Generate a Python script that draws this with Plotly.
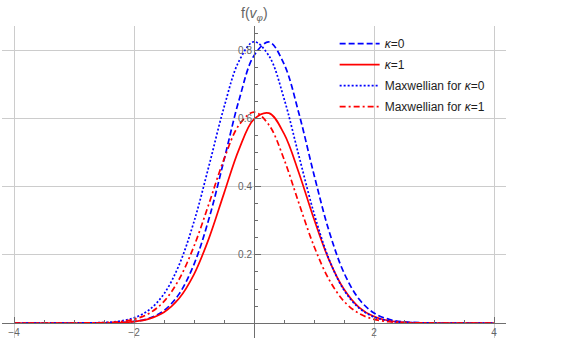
import plotly.graph_objects as go

# velocity grid v_phi/(d_i v_A)
v = [-4, -3.5, -3, -2.5, -2.25, -2, -1.75, -1.5, -1.25, -1, -0.75, -0.5, -0.25,
     0, 0.25, 0.5, 0.75, 1, 1.25, 1.5, 1.75, 2, 2.25, 2.5, 3, 3.5, 4]

# kappa=0 (blue dashed)
f_k0 = [0, 0, 0, 0.0003, 0.0013, 0.0046, 0.0139, 0.0367, 0.085, 0.1726, 0.307, 0.479, 0.655,
        0.786, 0.826, 0.7615, 0.615, 0.436, 0.2707, 0.1474, 0.0704, 0.0294, 0.0108, 0.0035, 0.0002, 0, 0]
# kappa=1 (red solid)
f_k1 = [0, 0, 0, 0.0003, 0.0012, 0.0042, 0.0123, 0.0318, 0.0721, 0.1431, 0.2495, 0.3811, 0.5104,
        0.5992, 0.6168, 0.5566, 0.4404, 0.3055, 0.1858, 0.0991, 0.0463, 0.019, 0.0068, 0.0021, 0.0001, 0, 0]
# Maxwellian for kappa=0 (blue dotted)
f_m0 = [0, 0, 0.0001, 0.0016, 0.0053, 0.0151, 0.0384, 0.0858, 0.170, 0.298, 0.4625, 0.634, 0.770,
        0.8267, 0.785, 0.660, 0.490, 0.3226, 0.1877, 0.0966, 0.044, 0.0177, 0.0063, 0.002, 0.0001, 0, 0]
# Maxwellian for kappa=1 (red dash-dot)
f_m1 = [0, 0, 0.0001, 0.0011, 0.0037, 0.0109, 0.0281, 0.0638, 0.128, 0.2258, 0.3512, 0.4816, 0.582,
        0.62, 0.582, 0.4816, 0.3512, 0.2258, 0.128, 0.0638, 0.0281, 0.0109, 0.0037, 0.0011, 0.0001, 0, 0]

x_ticks = [-4, -2, 2, 4]
y_ticks = [0.2, 0.4, 0.6, 0.8]

BLUE = "rgb(0,0,255)"
RED = "rgb(255,0,0)"
GRID = "rgb(204,204,204)"
AXIS = "rgb(110,110,110)"
TXT = "rgb(100,100,100)"
FONT = "Liberation Sans, Arial, sans-serif"

fig = go.Figure()
series = [
    ("<i>κ</i>=0", f_k0, BLUE, "6px,3px"),
    ("<i>κ</i>=1", f_k1, RED, "solid"),
    ("Maxwellian for <i>κ</i>=0", f_m0, BLUE, "2px,2px"),
    ("Maxwellian for <i>κ</i>=1", f_m1, RED, "6px,3px,2px,3px"),
]
for i, (name, ys, col, dash) in enumerate(series):
    fig.add_trace(go.Scatter(x=v, y=ys, name=name, mode="lines", legendgroup=str(i),
                             line=dict(color=col, dash=dash, width=1.7, shape="spline", smoothing=1.0)))

fig.update_layout(
    width=576, height=342,
    margin=dict(l=2, r=70, t=26, b=4),
    plot_bgcolor="white", paper_bgcolor="white",
    font=dict(family=FONT, size=12, color="rgb(40,40,40)"),
    legend=dict(x=0.66, y=0.99, xanchor="left", yanchor="top", bgcolor="rgba(0,0,0,0)",
                itemwidth=40, tracegroupgap=2, traceorder="grouped",
                font=dict(size=12, color="rgb(30,30,30)")),
    showlegend=True,
)

fig.update_xaxes(
    range=[-4.2, 4.2], anchor="free", position=0.044 / 0.917,
    tickmode="array", tickvals=x_ticks, ticktext=[str(t) if t > 0 else "\u2212" + str(-t) for t in x_ticks],
    ticks="inside", ticklen=6, tickcolor=AXIS, tickfont=dict(size=10, color=TXT),
    showline=True, linecolor=AXIS, linewidth=1,
    showgrid=True, gridcolor=GRID, gridwidth=1, zeroline=False,
    minor=dict(tickmode="linear", tick0=0, dtick=0.5, ticks="inside", ticklen=3,
               tickcolor=AXIS, showgrid=False),
)
fig.update_yaxes(
    range=[-0.044, 0.873], anchor="free", position=0.5,
    tickmode="array", tickvals=y_ticks, ticktext=[str(t) for t in y_ticks],
    ticks="inside", ticklen=6, tickcolor=AXIS, tickfont=dict(size=10, color=TXT),
    showline=True, linecolor=AXIS, linewidth=1,
    showgrid=True, gridcolor=GRID, gridwidth=1, zeroline=False,
    minor=dict(tickmode="linear", tick0=0, dtick=0.05, ticks="inside", ticklen=3,
               tickcolor=AXIS, showgrid=False),
)

# axis labels, Mathematica style
fig.add_annotation(text="f(<i>v</i><sub><i>φ</i></sub>)", x=0, xref="x", y=1, yref="paper",
                   yanchor="bottom", xanchor="center", showarrow=False, yshift=1,
                   font=dict(size=14, color=TXT))
fig.add_annotation(text="<i>v</i><sub><i>φ</i></sub>/(<i>d</i><sub><i>i</i></sub> <i>v</i><sub><i>A</i></sub>)",
                   x=4.3, xref="x", y=0, yref="y", xanchor="left", yanchor="middle",
                   showarrow=False, font=dict(size=13, color=TXT))

# drop the default 8px body margin so the figure fills the window
fig.write_html("out.html", config={"displayModeBar": False},
               post_script="document.body.style.margin='0';")
